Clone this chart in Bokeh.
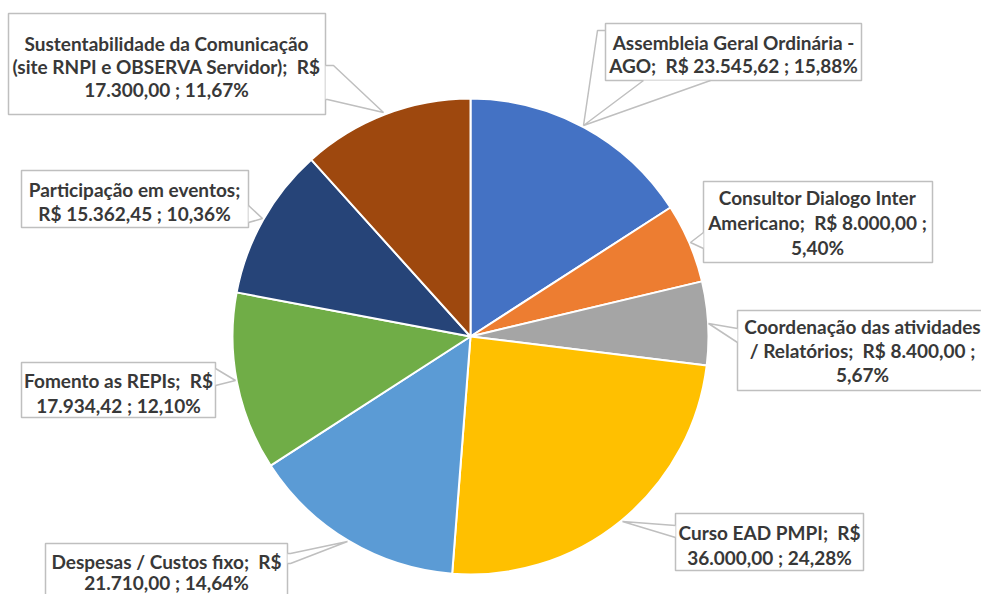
import math
from bokeh.plotting import figure
from bokeh.models import Range1d, ColumnDataSource
from bokeh.core.properties import value
from bokeh.embed import file_html
from bokeh.resources import INLINE

# ---- data ----
categories = [
    "Assembleia Geral Ordinária - AGO",
    "Consultor Dialogo Inter Americano",
    "Coordenação das atividades / Relatórios",
    "Curso EAD PMPI",
    "Despesas / Custos fixo",
    "Fomento as REPIs",
    "Participação em eventos",
    "Sustentabilidade da Comunicação (site RNPI e OBSERVA Servidor)",
]
values = [23545.62, 8000.00, 8400.00, 36000.00, 21710.00, 17934.42, 15362.45, 17300.00]
colors = ["#4472C4", "#ED7D31", "#A5A5A5", "#FFC000", "#5B9BD5", "#70AD47", "#264478", "#9E480E"]

NB = "\u00a0"
label_lines = [
    ["Assembleia Geral Ordinária -", "AGO;" + NB + " R$ 23.545,62 ; 15,88%"],
    ["Consultor Dialogo Inter", "Americano;" + NB + " R$ 8.000,00 ;", "5,40%"],
    ["Coordenação das atividades", "/ Relatórios;" + NB + " R$ 8.400,00 ;", "5,67%"],
    ["Curso EAD PMPI;" + NB + " R$", "36.000,00 ; 24,28%"],
    ["Despesas / Custos fixo;" + NB + " R$", "21.710,00 ; 14,64%"],
    ["Fomento as REPIs;" + NB + " R$", "17.934,42 ; 12,10%"],
    ["Participação em eventos;", "R$ 15.362,45 ; 10,36%"],
    ["Sustentabilidade da Comunicação", "(site RNPI e OBSERVA Servidor);" + NB + " R$", "17.300,00 ; 11,67%"],
]

# ---- layout (reference pixel coordinates, y downward) ----
W, H = 981, 594
def Y(y):
    return H - y

CX, CY, R = 470, 336, 238

# box: (x0, y0, x1, y1), text center x, first line y, line step
boxes = [
    (605, 23, 861, 80, 733, 42, 23),
    (703, 181, 932, 262, 817, 197, 25),
    (737, 310, 987, 390, 862, 326, 24),
    (675, 513, 863, 570, 769, 532, 25),
    (45, 543, 287, 620, 166, 561, 21),
    (21, 362, 215, 417, 118, 380, 25),
    (21, 170, 248, 227, 134, 189, 24),
    (8, 13, 325, 114, 166, 43, 23),
]
tails = [
    [(643, 80), (583, 125), (710, 80)],
    [(703, 232), (690, 242), (703, 248)],
    [(737, 328), (708, 323), (737, 342)],
    [(675, 525), (622, 521), (675, 537)],
    [(287, 553), (290, 553), (347, 541), (290, 563), (287, 563)],
    [(215, 368), (235, 380), (215, 385)],
    [(248, 205), (262, 218), (248, 222)],
    [(325, 65), (333, 65), (383, 112), (327, 99), (325, 99)],
]
extra_lines = [
    [(605, 30), (597, 30), (583, 125)],
]

p = figure(width=W, height=H, output_backend="svg", toolbar_location=None,
           x_range=Range1d(0, W), y_range=Range1d(0, H),
           min_border=0, background_fill_color="white", border_fill_color="white")
p.axis.visible = False
p.grid.visible = False
p.outline_line_color = None

# ---- pie ----
total = sum(values)
starts, ends = [], []
cum = 0.0
for v in values:
    starts.append(math.pi / 2 - 2 * math.pi * cum / total)
    cum += v
    ends.append(math.pi / 2 - 2 * math.pi * cum / total)
src = ColumnDataSource(dict(cat=categories, val=values, start=starts, end=ends, color=colors))
p.wedge(x=CX, y=Y(CY), radius=R, start_angle="start", end_angle="end", direction="clock",
        fill_color="color", line_color="white", line_width=2, source=src)

# ---- callouts ----
BORDER = "#BFBFBF"
p.quad(left=[b[0] for b in boxes], right=[b[2] for b in boxes],
       top=[Y(b[1]) for b in boxes], bottom=[Y(b[3]) for b in boxes],
       fill_color="white", line_color=BORDER, line_width=1.5)
p.patches(xs=[[pt[0] for pt in t] for t in tails], ys=[[Y(pt[1]) for pt in t] for t in tails],
          fill_color="white", line_color=None)
p.multi_line(xs=[[pt[0] for pt in t] for t in tails] + [[pt[0] for pt in t] for t in extra_lines],
             ys=[[Y(pt[1]) for pt in t] for t in tails] + [[Y(pt[1]) for pt in t] for t in extra_lines],
             line_color=BORDER, line_width=1.5)

tx, ty, tt = [], [], []
for b, lines in zip(boxes, label_lines):
    for i, ln in enumerate(lines):
        tx.append(b[4])
        ty.append(Y(b[5] + i * b[6]))
        tt.append(ln)
p.text(x=tx, y=ty, text=tt, text_font=value("Lato"), text_font_style="bold",
       text_font_size="19px", text_align="center", text_baseline="middle", text_color="#383838")

open("out.html", "w").write(file_html(p, INLINE))
